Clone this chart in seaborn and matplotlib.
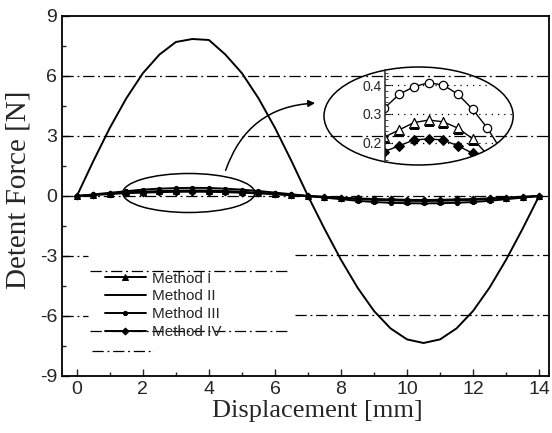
import numpy as np
import pandas as pd
import matplotlib
matplotlib.use("Agg")
import matplotlib.pyplot as plt
from matplotlib.patches import Ellipse, FancyArrowPatch
from matplotlib.ticker import MultipleLocator
import seaborn as sns

# displacement steps [mm]
disp = np.arange(0, 14.01, 0.5)

# detent force [N]
method_1 = [0, 0.06, 0.12, 0.18, 0.22, 0.245, 0.270, 0.279, 0.273, 0.251, 0.214, 0.16, 0.11, 0.05, 0.0,
            -0.05, -0.10, -0.15, -0.19, -0.22, -0.24, -0.25, -0.24, -0.22, -0.19, -0.15, -0.10, -0.05, 0.0]
method_2 = [0, 1.75, 3.41, 4.89, 6.14, 7.07, 7.70, 7.85, 7.80, 7.07, 6.14, 4.89, 3.41, 1.75, 0.0,
            -1.64, -3.19, -4.58, -5.75, -6.62, -7.17, -7.35, -7.17, -6.62, -5.75, -4.58, -3.19, -1.64, 0.0]
method_3 = [0, 0.08, 0.16, 0.24, 0.32, 0.368, 0.394, 0.408, 0.400, 0.368, 0.316, 0.251, 0.17, 0.09, 0.0,
            -0.08, -0.16, -0.24, -0.30, -0.34, -0.36, -0.37, -0.36, -0.34, -0.30, -0.24, -0.16, -0.08, 0.0]
method_4 = [0, 0.05, 0.10, 0.14, 0.17, 0.190, 0.210, 0.214, 0.210, 0.190, 0.164, 0.13, 0.09, 0.04, 0.0,
            -0.04, -0.08, -0.12, -0.15, -0.17, -0.19, -0.20, -0.19, -0.17, -0.15, -0.12, -0.08, -0.04, 0.0]

labels = ["Method I", "Method II", "Method III", "Method IV"]
x_ticks = [0, 2, 4, 6, 8, 10, 12, 14]
y_ticks = [-9, -6, -3, 0, 3, 6, 9]
inset_ticks = [0.2, 0.3, 0.4]

df = pd.DataFrame({"disp": disp, "m1": method_1, "m2": method_2, "m3": method_3, "m4": method_4})

sns.set_style("ticks")
plt.rcParams["font.family"] = ["Liberation Sans", "DejaVu Sans"]
plt.rcParams["xtick.direction"] = "in"
plt.rcParams["ytick.direction"] = "in"
plt.rcParams["axes.unicode_minus"] = False

fig = plt.figure(figsize=(5.52, 4.33), dpi=100)
ax = fig.add_axes([62 / 552, 1 - 376 / 433, 487 / 552, 360 / 433])

# dash-dot grid (the lower ones are offset in the scan behind the legend)
dd = (0, (9, 3, 1.5, 3))
for gy in [6, 3, 0]:
    ax.axhline(gy, ls=dd, lw=0.9, color="k", zorder=1)
ax.hlines([-3, -6], -0.45, 0.35, ls=dd, lw=0.9, color="k")
ax.hlines([-3.75, -6.75], 0.4, 6.45, ls=dd, lw=0.9, color="k")
ax.hlines([-7.75], 0.45, 2.35, ls=dd, lw=0.9, color="k")
ax.hlines([-2.95, -5.95], 6.6, 14.3, ls=dd, lw=0.9, color="k")

sns.lineplot(data=df, x="disp", y="m1", ax=ax, color="k", lw=1.4, marker="^", markersize=4,
             markeredgecolor="k", label=labels[0])
sns.lineplot(data=df, x="disp", y="m2", ax=ax, color="k", lw=1.4, label=labels[1])
sns.lineplot(data=df, x="disp", y="m3", ax=ax, color="k", lw=1.4, marker="o", markersize=3,
             markeredgecolor="k", label=labels[2])
sns.lineplot(data=df, x="disp", y="m4", ax=ax, color="k", lw=1.4, marker="D", markersize=3.5,
             markeredgecolor="k", label=labels[3])

ax.set_xlim(-0.45, 14.3)
ax.set_ylim(-9, 9)
ax.set_xticks(x_ticks)
ax.set_yticks(y_ticks)
ax.xaxis.set_minor_locator(MultipleLocator(1))
ax.yaxis.set_minor_locator(MultipleLocator(1.5))
ax.tick_params(which="major", length=5, width=1, labelsize=14)
ax.tick_params(which="minor", length=3, width=1)
for s in ax.spines.values():
    s.set_linewidth(1.3)
    s.set_color("k")

ax.set_xlabel("Displacement [mm]", family=["Liberation Serif"], fontsize=19)
ax.set_ylabel("Detent Force [N]", family=["Liberation Serif"], fontsize=21)
ax.xaxis.set_label_coords(0.524, -0.068)
ax.yaxis.set_label_coords(-0.062, 0.517)

leg = ax.legend(loc="upper left", bbox_to_anchor=(0.088, 0.29), frameon=False, fontsize=11,
                handlelength=2.7, handletextpad=0.4, labelspacing=0.25, borderpad=0, borderaxespad=0)

# zoom marker and arrow
ax.add_patch(Ellipse((3.39, 0.15), 4.0, 1.95, fill=False, lw=1.1, color="k"))
ax.add_patch(FancyArrowPatch((4.48, 1.15), (7.3, 4.65), connectionstyle="arc3,rad=-0.35",
                             arrowstyle="-|>", mutation_scale=10, lw=1.1, color="k"))
big = Ellipse((10.35, 4.0), 5.73, 4.9, fill=False, lw=1.1, color="k")
ax.add_patch(big)

# inset
axi = fig.add_axes([385 / 552, 1 - 162 / 433, 128 / 552, 92 / 433])
axi.set_facecolor("none")
for gy in inset_ticks:
    axi.axhline(gy, ls=(0, (1, 4)), lw=0.9, color="k")
sns.lineplot(data=df, x="disp", y="m3", ax=axi, color="k", lw=1, marker="o", markersize=6,
             markerfacecolor="white", markeredgecolor="k", markeredgewidth=0.9)
sns.lineplot(data=df, x="disp", y="m1", ax=axi, color="k", lw=1, marker="^", markersize=7,
             markerfacecolor="white", markeredgecolor="k", markeredgewidth=0.9)
sns.lineplot(data=df, x="disp", y="m4", ax=axi, color="k", lw=1, marker="D", markersize=5,
             markerfacecolor="k", markeredgecolor="k")
axi.set_xlim(2.02, 6.37)
axi.set_ylim(0.134, 0.452)
axi.set_yticks(inset_ticks)
axi.set_yticklabels(["0.2", "0.3", "0.4"])
axi.yaxis.set_minor_locator(MultipleLocator(0.02))
axi.set_xticks([])
axi.set_xlabel("")
axi.set_ylabel("")
axi.tick_params(axis="y", which="major", length=4, labelsize=10, pad=2)
axi.tick_params(axis="y", which="minor", length=2)
for side in ["top", "right", "bottom"]:
    axi.spines[side].set_visible(False)
axi.spines["left"].set_linewidth(1.1)
for ln in axi.lines:
    ln.set_clip_path(big)

fig.savefig("out.png", dpi=100)
